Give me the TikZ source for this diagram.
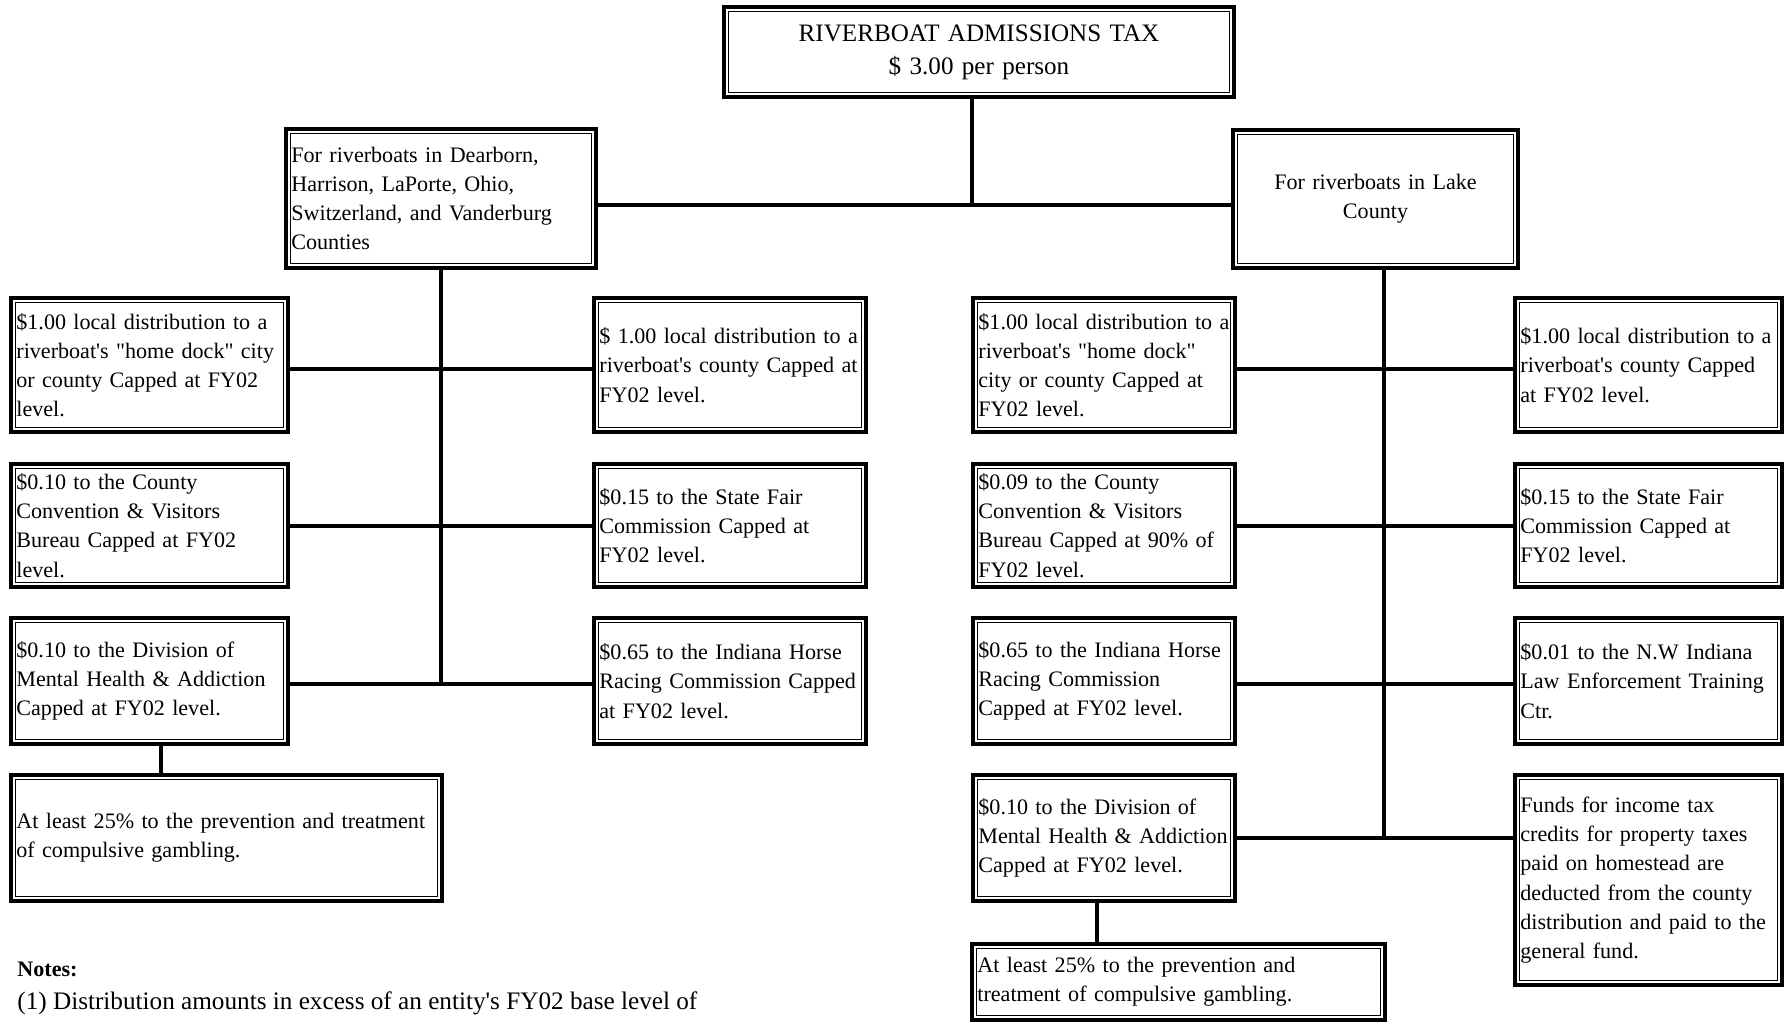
\documentclass[tikz,border=0pt]{standalone}
\usepackage{fontspec}
\setmainfont{Liberation Serif}[Ligatures=TeXOff]
\usepackage{tikz}
\usetikzlibrary{positioning, calc}
\newcommand{\boxfont}{\fontsize{11.05pt}{14.6pt}\selectfont\hyphenpenalty=10000 }
\newcommand{\ttlfont}{\fontsize{12.55pt}{16.5pt}\selectfont}
\newcommand{\notefont}{\fontsize{12.6pt}{15pt}\selectfont}
\tikzset{
  dbox/.style={rectangle, draw=black, line width=1.8pt,
    inner xsep=2.8pt, inner ysep=2pt, outer sep=0pt,
    align=left, font=\boxfont,
    append after command={\pgfextra{\draw[line width=0.8pt]
      ([shift={(2.3pt,-2.3pt)}]\tikzlastnode.north west) rectangle
      ([shift={(-2.3pt,2.3pt)}]\tikzlastnode.south east);}}},
  cbox/.style={dbox, align=center},
  colA/.style={minimum width=138.7pt, text width=133.1pt},
  colB/.style={minimum width=136.2pt, text width=130.6pt},
  colC/.style={minimum width=131.2pt, text width=125.6pt},
  colD/.style={minimum width=133.7pt, text width=128.1pt},
  rowone/.style={minimum height=67.2pt},
  rowtwo/.style={minimum height=61.7pt},
  rowthree/.style={minimum height=63.2pt},
  link/.style={line width=2pt, color=black},
  notetext/.style={anchor=west, inner sep=0pt}
}
\begin{document}
\begin{tikzpicture}[x=0.5pt, y=-0.5pt]
  \useasboundingbox (0,0) rectangle (1787,1022);
  % Title
  \node[cbox, font=\ttlfont, minimum width=255.2pt, minimum height=45.2pt, text width=249.6pt]
    (ttl) at (979,52) {RIVERBOAT ADMISSIONS TAX\\ \$ 3.00 per person};
  % County groups
  \node[dbox, minimum width=155.2pt, minimum height=69.7pt, text width=149.6pt]
    (cty1) at (441,198.5) {For riverboats in Dearborn,\\ Harrison, LaPorte, Ohio,\\ Switzerland, and Vanderburg\\ Counties};
  \node[cbox, minimum width=142.7pt, minimum height=69.2pt, text width=137.1pt]
    (cty2) at (1375.5,199) {For riverboats in Lake\\ County};
  % Left group, outer column
  \node[dbox, colA, rowone] (a1) at (149.5,365) {\$1.00 local distribution to a\\ riverboat's "home dock" city\\ or county Capped at FY02\\ level.};
  \node[dbox, colA, rowtwo] (a2) at (149.5,525.5) {\$0.10 to the County\\ Convention \& Visitors\\ Bureau Capped at FY02\\ level.};
  \node[dbox, colA, rowthree] (a3) at (149.5,681) {\$0.10 to the Division of\\ Mental Health \& Addiction\\ Capped at FY02 level.};
  \node[dbox, minimum width=215.7pt, minimum height=63.2pt, text width=210.1pt]
    (a4) at (226.5,838) {At least 25\% to the prevention and treatment\\ of compulsive gambling.};
  % Left group, inner column
  \node[dbox, colB, rowone] (b1) at (730,365) {\$ 1.00 local distribution to a\\ riverboat's county Capped at\\ FY02 level.};
  \node[dbox, colB, rowtwo] (b2) at (730,525.5) {\$0.15 to the State Fair\\ Commission Capped at\\ FY02 level.};
  \node[dbox, colB, rowthree] (b3) at (730,681) {\$0.65 to the Indiana Horse\\ Racing Commission Capped\\ at FY02 level.};
  % Lake County, inner column
  \node[dbox, colC, rowone] (c1) at (1104,365) {\$1.00 local distribution to a\\ riverboat's "home dock"\\ city or county Capped at\\ FY02 level.};
  \node[dbox, colC, rowtwo] (c2) at (1104,525.5) {\$0.09 to the County\\ Convention \& Visitors\\ Bureau Capped at 90\% of\\ FY02 level.};
  \node[dbox, colC, rowthree] (c3) at (1104,681) {\$0.65 to the Indiana Horse\\ Racing Commission\\ Capped at FY02 level.};
  \node[dbox, colC, rowthree] (c4) at (1104,838) {\$0.10 to the Division of\\ Mental Health \& Addiction\\ Capped at FY02 level.};
  \node[dbox, minimum width=206.7pt, minimum height=38.2pt, text width=201.1pt]
    (c5) at (1178.5,982) {At least 25\% to the prevention and\\ treatment of compulsive gambling.};
  % Lake County, outer column
  \node[dbox, colD, rowone] (d1) at (1648.5,365) {\$1.00 local distribution to a\\ riverboat's county Capped\\ at FY02 level.};
  \node[dbox, colD, rowtwo] (d2) at (1648.5,525.5) {\$0.15 to the State Fair\\ Commission Capped at\\ FY02 level.};
  \node[dbox, colD, rowthree] (d3) at (1648.5,681) {\$0.01 to the N.W Indiana\\ Law Enforcement Training\\ Ctr.};
  \node[dbox, colD, minimum height=105.2pt] (d4) at (1648.5,880) {Funds for income tax\\ credits for property taxes\\ paid on homestead are\\ deducted from the county\\ distribution and paid to the\\ general fund.};
  % Notes
  \node[notetext, font=\boxfont\bfseries] (notes) at (17,969) {Notes:};
  \node[notetext, font=\notefont] (note1) at (17,1003) {(1) Distribution amounts in excess of an entity's FY02 base level of};
  % Connectors
  \coordinate (j0) at (972,205);
  \coordinate (r1) at (0,369);
  \coordinate (r3) at (0,684);
  \coordinate (tr) at (1383.5,838);
  \draw[link] (ttl.south -| j0) -- (j0);
  \draw[link] (cty1.east |- j0) -- (cty2.west |- j0);
  \draw[link] (cty1.south) -- (cty1.south |- r3);
  \draw[link] (a1.east |- r1) -- (b1.west |- r1);
  \draw[link] (a2.east) -- (b2.west);
  \draw[link] (a3.east |- r3) -- (b3.west |- r3);
  \draw[link] ([xshift=5.5pt]a3.south) -- ([xshift=5.5pt]a3.south |- a4.north);
  \draw[link] (cty2.south -| tr) -- (tr);
  \draw[link] (c1.east |- r1) -- (d1.west |- r1);
  \draw[link] (c2.east) -- (d2.west);
  \draw[link] (c3.east |- r3) -- (d3.west |- r3);
  \draw[link] (c4.east) -- (c4.east -| d4.west);
  \draw[link] ([xshift=-3.5pt]c4.south) -- ([xshift=-3.5pt]c4.south |- c5.north);
\end{tikzpicture}
\end{document}
